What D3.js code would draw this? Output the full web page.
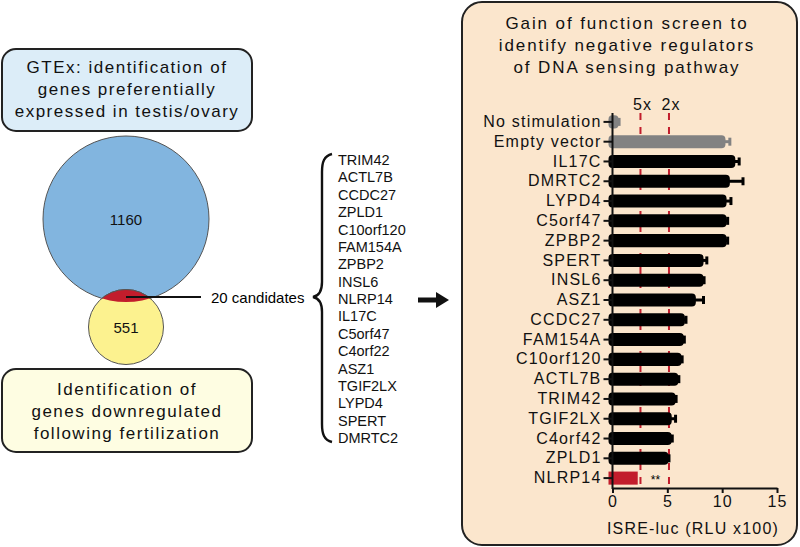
<!DOCTYPE html>
<html>
<head>
<meta charset="utf-8">
<script src="https://cdn.jsdelivr.net/npm/d3@7"></script>
<style>
  body { margin: 0; background: #fff; }
  svg { display: block; font-family: "Liberation Sans", Arial, sans-serif; }
</style>
</head>
<body>
<svg id="chart" width="800" height="547"></svg>
<script>
// screen results (ISRE-luc, RLU x100)
const categories = ['No stimulation', 'Empty vector', 'IL17C', 'DMRTC2', 'LYPD4', 'C5orf47', 'ZPBP2',
  'SPERT', 'INSL6', 'ASZ1', 'CCDC27', 'FAM154A', 'C10orf120', 'ACTL7B', 'TRIM42', 'TGIF2LX',
  'C4orf42', 'ZPLD1', 'NLRP14'];
const values = [0.55, 10.3, 11.2, 10.7, 10.4, 10.4, 10.4, 8.3, 8.3, 7.6, 6.6, 6.5, 6.3, 6.0, 5.75, 5.4, 5.4, 5.1, 2.3];
const errors = [0.05, 0.4, 0.35, 1.2, 0.4, 0.1, 0.1, 0.3, 0.05, 0.7, 0.1, 0.05, 0.05, 0.05, 0.05, 0.35, 0.05, 0.05, 0];
const barGroup = ['control', 'control', 'gene', 'gene', 'gene', 'gene', 'gene', 'gene', 'gene', 'gene',
  'gene', 'gene', 'gene', 'gene', 'gene', 'gene', 'gene', 'gene', 'hit'];
const xTicks = [0, 5, 10, 15];
const thresholds = [2.55, 5.15];
const thresholdLabels = ['5x', '2x'];

// venn + candidate list
const vennCounts = [1160, 551];
const candidates = ['TRIM42', 'ACTL7B', 'CCDC27', 'ZPLD1', 'C10orf120', 'FAM154A', 'ZPBP2', 'INSL6',
  'NLRP14', 'IL17C', 'C5orf47', 'C4orf22', 'ASZ1', 'TGIF2LX', 'LYPD4', 'SPERT', 'DMRTC2'];
const topBoxText = ['GTEx: identification of', 'genes preferentially', 'expressed in testis/ovary'];
const bottomBoxText = ['Identification of', 'genes downregulated', 'following fertilization'];
const titleText = ['Gain of function screen to', 'identify negative regulators', 'of DNA sensing pathway'];

const colors = { control: '#828282', gene: '#000', hit: '#c21d2c' };

const svg = d3.select('#chart');

// ---------- left side ----------
function infoBox(y, h, fill, lines, lineY) {
  svg.append('rect')
    .attr('x', 2).attr('y', y).attr('width', 250).attr('height', h)
    .attr('rx', 14)
    .attr('fill', fill).attr('stroke', '#222').attr('stroke-width', 2);
  svg.append('g').selectAll('text').data(lines).join('text')
    .attr('x', 127).attr('y', (d, i) => lineY + i * 22)
    .attr('text-anchor', 'middle').attr('dominant-baseline', 'central')
    .attr('font-size', 17).attr('letter-spacing', 1.5).attr('fill', '#111')
    .text(d => d);
}
infoBox(49, 82, '#dcedf8', topBoxText, 67);
infoBox(369, 83, '#fefde2', bottomBoxText, 389);

const blue = { cx: 126, cy: 219, r: 83 };
const yellow = { cx: 126, cy: 327, r: 37.5 };

svg.append('circle').attr('cx', blue.cx).attr('cy', blue.cy).attr('r', blue.r)
  .attr('fill', '#82b5df').attr('stroke', '#555').attr('stroke-width', 1);
svg.append('circle').attr('cx', yellow.cx).attr('cy', yellow.cy).attr('r', yellow.r)
  .attr('fill', '#fcf28f').attr('stroke', '#555').attr('stroke-width', 1);

svg.append('clipPath').attr('id', 'blueClip')
  .append('circle').attr('cx', blue.cx).attr('cy', blue.cy).attr('r', blue.r);
svg.append('circle').attr('cx', yellow.cx).attr('cy', yellow.cy).attr('r', yellow.r)
  .attr('clip-path', 'url(#blueClip)')
  .attr('fill', '#c21d2c').attr('stroke', '#555').attr('stroke-width', 1);

svg.append('g').selectAll('text').data([blue, yellow]).join('text')
  .attr('x', d => d.cx).attr('y', d => d.cy)
  .attr('text-anchor', 'middle').attr('dominant-baseline', 'central')
  .attr('font-size', 15).attr('fill', '#111')
  .text((d, i) => vennCounts[i]);

svg.append('line').attr('x1', 126).attr('x2', 201).attr('y1', 297).attr('y2', 297)
  .attr('stroke', '#111').attr('stroke-width', 2);
svg.append('text').attr('x', 211).attr('y', 297).attr('dominant-baseline', 'central')
  .attr('font-size', 15).text('20 candidates');

// curly brace
svg.append('path')
  .attr('d', 'M332,154 C324,156 322,162 322,172 L322,282 C322,292 318,296 313,297 ' +
             'C318,298 322,302 322,312 L322,424 C322,434 324,440 332,442')
  .attr('fill', 'none').attr('stroke', '#111').attr('stroke-width', 2.4);

const listY = d3.scalePoint().domain(candidates).range([160, 438]);
svg.append('g').selectAll('text').data(candidates).join('text')
  .attr('x', 338).attr('y', d => listY(d))
  .attr('dominant-baseline', 'central').attr('font-size', 14.5).attr('fill', '#111')
  .text(d => d);

// arrow
svg.append('path')
  .attr('d', 'M418,297.5 L436,297.5 L436,292 L449,300 L436,308 L436,302.5 L418,302.5 Z')
  .attr('fill', '#111');

// ---------- right panel ----------
svg.append('rect')
  .attr('x', 462).attr('y', 2).attr('width', 335).attr('height', 543).attr('rx', 20)
  .attr('fill', '#fbe6cd').attr('stroke', '#222').attr('stroke-width', 2);

svg.append('g').selectAll('text').data(titleText).join('text')
  .attr('x', 627).attr('y', (d, i) => 23 + i * 22)
  .attr('text-anchor', 'middle').attr('dominant-baseline', 'central')
  .attr('font-size', 17).attr('letter-spacing', 1.9).attr('fill', '#111')
  .text(d => d);

const x = d3.scaleLinear().domain([0, 15]).range([612.5, 777]);
const y = d3.scaleBand().domain(categories).range([112, 488]).paddingInner(0.34).paddingOuter(0.17);
const rows = categories.map((c, i) => ({ c, v: values[i], e: errors[i], g: barGroup[i] }));

// threshold lines
svg.append('g').selectAll('line').data(thresholds).join('line')
  .attr('x1', d => x(d)).attr('x2', d => x(d))
  .attr('y1', 113).attr('y2', 488)
  .attr('stroke', '#c21d2c').attr('stroke-width', 2).attr('stroke-dasharray', '7,7');
svg.append('g').selectAll('text').data(thresholds).join('text')
  .attr('x', d => x(d) + 2).attr('y', 104)
  .attr('text-anchor', 'middle').attr('dominant-baseline', 'central')
  .attr('font-size', 16).attr('letter-spacing', 1).attr('fill', '#111')
  .text((d, i) => thresholdLabels[i]);

// error bars
const err = svg.append('g').selectAll('g').data(rows.filter(d => d.e > 0)).join('g')
  .attr('stroke', d => colors[d.g]);
err.append('line')
  .attr('x1', d => x(d.v) - 2).attr('x2', d => x(d.v + d.e))
  .attr('y1', d => y(d.c) + y.bandwidth() / 2).attr('y2', d => y(d.c) + y.bandwidth() / 2)
  .attr('stroke-width', 3);
err.append('line')
  .attr('x1', d => x(d.v + d.e)).attr('x2', d => x(d.v + d.e))
  .attr('y1', d => y(d.c) + y.bandwidth() / 2 - 4).attr('y2', d => y(d.c) + y.bandwidth() / 2 + 4)
  .attr('stroke-width', 3);

// bars
svg.append('g').selectAll('rect').data(rows).join('rect')
  .attr('x', x(0) - 4)
  .attr('y', d => y(d.c))
  .attr('width', d => x(d.v) - x(0) + 4)
  .attr('height', y.bandwidth())
  .attr('rx', d => d.g === 'hit' ? 0 : 4)
  .attr('fill', d => colors[d.g]);

svg.append('text').attr('x', x(2.3) + 13).attr('y', y('NLRP14') + y.bandwidth() / 2 + 2)
  .attr('dominant-baseline', 'central').attr('font-size', 12).text('**');

// axes
const yAxis = svg.append('g').attr('transform', `translate(${x(0)},0)`)
  .call(d3.axisLeft(y).tickSize(9).tickPadding(2));
yAxis.select('.domain').remove();
svg.append('line').attr('x1', x(0)).attr('x2', x(0)).attr('y1', 113).attr('y2', 489)
  .attr('stroke', '#111').attr('stroke-width', 2);

const xAxis = svg.append('g').attr('transform', 'translate(0,488)')
  .call(d3.axisBottom(x).tickValues(xTicks).tickSize(5).tickSizeOuter(0).tickPadding(3));

[yAxis, xAxis].forEach(a => {
  a.selectAll('line').attr('stroke', '#111').attr('stroke-width', 2);
  a.selectAll('.domain').attr('stroke', '#111').attr('stroke-width', 2);
  a.selectAll('text').attr('font-size', 16).attr('fill', '#111')
    .attr('font-family', '"Liberation Sans", Arial, sans-serif');
});
yAxis.selectAll('text').attr('letter-spacing', 1.2);
xAxis.selectAll('text').attr('letter-spacing', 1);

svg.append('text').attr('x', 693).attr('y', 528)
  .attr('text-anchor', 'middle').attr('dominant-baseline', 'central')
  .attr('font-size', 16).attr('letter-spacing', 1.2).attr('fill', '#111')
  .text('ISRE-luc (RLU x100)');
</script>
</body>
</html>
